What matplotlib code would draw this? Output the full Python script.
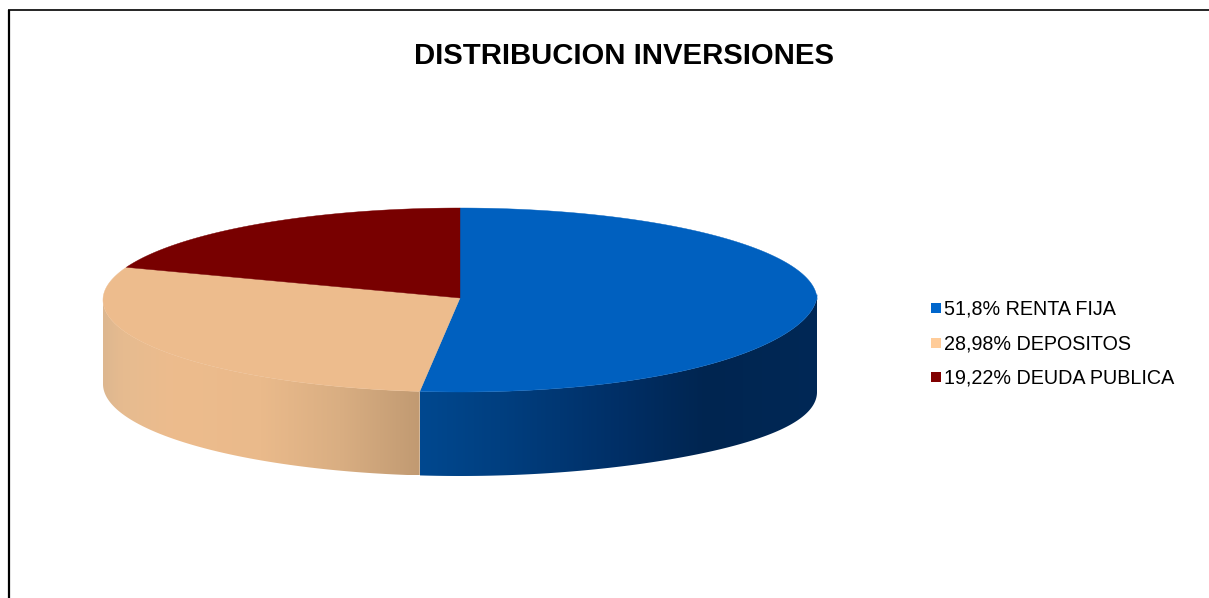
import numpy as np
import matplotlib
matplotlib.use("Agg")
import matplotlib.pyplot as plt
from matplotlib.colors import LinearSegmentedColormap
from matplotlib.patches import Polygon, Rectangle

plt.rcParams['font.family'] = ['Liberation Sans', 'DejaVu Sans']

title = "DISTRIBUCION INVERSIONES"
categories = ["RENTA FIJA", "DEPOSITOS", "DEUDA PUBLICA"]
values = [51.8, 28.98, 19.22]
value_labels = ["51,8%", "28,98%", "19,22%"]
top_colors = ["#0060BF", "#EDBC8D", "#780000"]
legend_colors = ["#0066CC", "#FFCC99", "#800000"]

W, H = 1209, 598
CX, CY, RX, RY, DEPTH = 460.0, 300.0, 357.0, 92.0, 84.0
APEX_Y = 298.0

fig = plt.figure(figsize=(W / 100, H / 100), dpi=100, facecolor="white")
ax = fig.add_axes([0, 0, 1, 1])
ax.set_xlim(0, W)
ax.set_ylim(H, 0)
ax.axis("off")

# chart frame: clipped by the image on the right and at the bottom
ax.plot([8.5, 8.5], [H, 9.5], color="black", lw=1.6, solid_capstyle="butt")
ax.plot([7.5, W], [9.8, 9.8], color="black", lw=1.2, solid_capstyle="butt")


def ell(theta):
    """Clockwise angle from the top (radians) -> rim point, lifted on the lower right."""
    u = np.sin(theta)
    y = CY - RY * np.cos(theta)
    lower_right = (np.cos(theta) < 0) & (u > 0)
    return CX + RX * u, y - 6 * lower_right * u ** 4


def wall_bottom(theta):
    u = np.sin(theta)
    y = CY - RY * np.cos(theta) + DEPTH
    return y + 8 * (u > 0) * u ** 4


edges = np.concatenate([[0], np.cumsum(values)]) / sum(values) * 2 * np.pi

tan_cmap = LinearSegmentedColormap.from_list("tan", [
    (0.0, "#DDB78F"), (0.06, "#E6BB90"), (0.22, "#EDBC8D"), (0.5, "#EABA8B"),
    (0.75, "#D9AE82"), (1.0, "#C19A72")])
blue_cmap = LinearSegmentedColormap.from_list("blue", [
    (0.0, "#00488F"), (0.2, "#003F80"), (0.5, "#002F66"), (0.72, "#002550"),
    (1.0, "#002856")])


def wall(t0, t1, cmap):
    t0, t1 = max(t0, np.pi / 2), min(t1, 3 * np.pi / 2)
    t = np.linspace(t0, t1, 400)
    x, y = ell(t)
    yb = wall_bottom(t)
    poly = np.column_stack([np.r_[x, x[::-1]], np.r_[y, yb[::-1]]])
    patch = Polygon(poly, closed=True, fc="none", ec="none")
    ax.add_patch(patch)
    grad = np.linspace(0, 1, 512).reshape(1, -1)
    im = ax.imshow(grad, cmap=cmap, extent=[x.min(), x.max(), yb.max(), y.min()],
                   aspect="auto", interpolation="bilinear", zorder=2)
    im.set_clip_path(patch)


wall(edges[0], edges[1], blue_cmap)
wall(edges[1], edges[2], tan_cmap)
ax.set_xlim(0, W)
ax.set_ylim(H, 0)

# top faces
for i, c in enumerate(top_colors):
    t = np.linspace(edges[i], edges[i + 1], 300)
    x, y = ell(t)
    ax.fill(np.r_[CX, x], np.r_[APEX_Y, y], color=c, lw=0.3, zorder=3)

ax.text(623.5, 56.5, title, ha="center", va="center", fontsize=21.05,
        fontweight="bold", color="black")

# legend
for yy, c, v, name in zip([308, 343, 377], legend_colors, value_labels, categories):
    ax.add_patch(Rectangle((930.5, yy - 5), 10, 10, fc=c, ec="none", zorder=3))
    ax.text(944, yy + 1, f"{v} {name}", ha="left", va="center", fontsize=14.2, color="black")

fig.savefig("out.png", dpi=100, facecolor="white")
